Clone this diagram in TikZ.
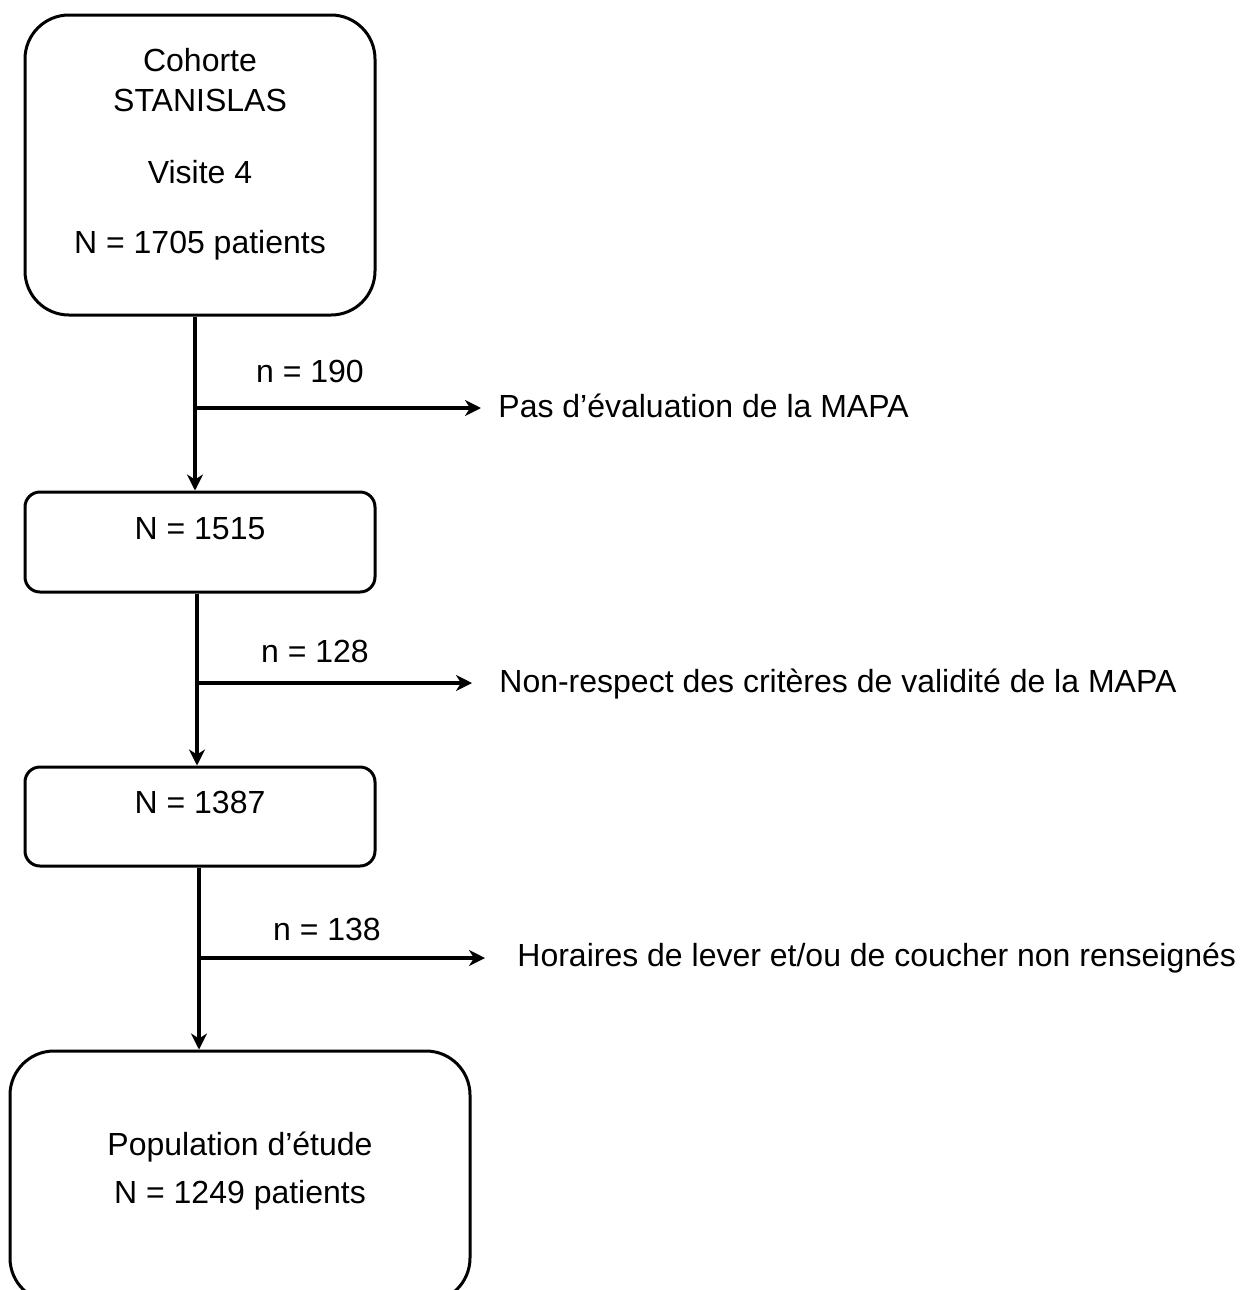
\documentclass[tikz,border=0pt]{standalone}
\usepackage{fontspec}
\setmainfont{Liberation Sans}
\usetikzlibrary{arrows.meta}
\begin{document}
\begin{tikzpicture}[x=0.5pt,y=-0.5pt,
  box/.style={draw=black,line width=1.5pt,rectangle,inner sep=0pt},
  txt/.style={anchor=base,inner sep=0pt,font=\fontsize{16}{19}\selectfont},
  extxt/.style={anchor=base west,inner sep=0pt,font=\fontsize{16}{19}\selectfont},
  arr/.style={line width=1.6pt,-{Stealth[length=8pt,width=8pt,inset=2.5pt]}}]
\useasboundingbox (0,0) rectangle (1241,1290);
\clip (0,0) rectangle (1241,1290);
% boxes
\node[box,rounded corners=22pt,minimum width=175pt,minimum height=150pt] (b1) at (200,165) {};
\node[box,rounded corners=7.5pt,minimum width=175pt,minimum height=50pt] (b2) at (200,542) {};
\node[box,rounded corners=7.5pt,minimum width=175pt,minimum height=49.5pt] (b3) at (200,816.5) {};
\node[box,rounded corners=22pt,minimum width=230pt,minimum height=125.5pt] (b4) at (240,1176.5) {};
% box texts
\node[txt] (t1a) at (200,71) {Cohorte};
\node[txt] (t1b) at (200,111) {STANISLAS};
\node[txt] (t1c) at (200,183) {Visite 4};
\node[txt] (t1d) at (200,253) {N = 1705 patients};
\node[txt] (t2) at (200,539) {N = 1515};
\node[txt] (t3) at (200,813) {N = 1387};
\node[txt] (t4a) at (240,1155) {Population d’étude};
\node[txt] (t4b) at (240,1203) {N = 1249 patients};
% labels
\node[txt] (l1) at (310,382) {n = 190};
\node[txt] (l2) at (315,662) {n = 128};
\node[txt] (l3) at (327,940) {n = 138};
% exclusion texts
\node[extxt] (e1) at (498,417) {Pas d’évaluation de la MAPA};
\node[extxt] (e2) at (499,692) {Non-respect des critères de validité de la MAPA};
\node[extxt] (e3) at (517,966) {Horaires de lever et/ou de coucher non renseignés};
% connectors
\draw[arr] ([xshift=-2.5pt]b1.south) -- ([xshift=-2.5pt]b2.north);
\draw[arr] ([xshift=-1.5pt]b2.south) -- ([xshift=-1.5pt]b3.north);
\draw[arr] ([xshift=-0.5pt]b3.south) -- ([xshift=-20.5pt]b4.north);
\coordinate (j1) at (195,408);
\coordinate (j2) at (197,683);
\coordinate (j3) at (199,958);
\coordinate (a1) at (481,408);
\coordinate (a2) at (472,683);
\coordinate (a3) at (485,958);
\draw[arr] (j1) -- (a1);
\draw[arr] (j2) -- (a2);
\draw[arr] (j3) -- (a3);
\end{tikzpicture}
\end{document}
